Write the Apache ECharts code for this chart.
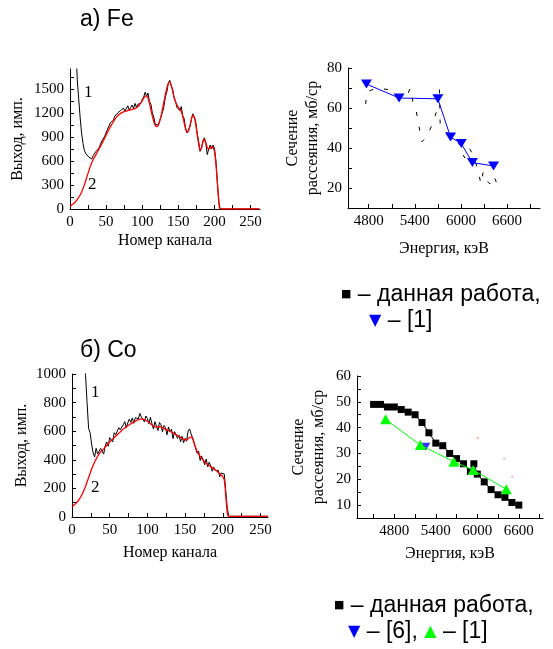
<!DOCTYPE html>
<html>
<head>
<meta charset="utf-8">
<style>
  html, body { margin: 0; padding: 0; background: #fff; }
  #chart { width: 553px; height: 649px; }
</style>
<script src="https://cdn.jsdelivr.net/npm/echarts@6/dist/echarts.min.js"></script>
</head>
<body>
<div id="chart"></div>
<script>
// ---- Fe spectrum: channel numbers, measured counts (1) and fitted curve (2)
const chanFe = [0,2,4,6,8,10,12,14,16,18,20,22,24,26,28,30,32,34,36,38,40,42,44,46,48,50,52,54,56,58,60,62,64,66,68,70,72,74,76,78,80,82,84,86,88,90,92,94,96,98,100,102,104,106,108,110,112,114,116,118,120,122,124,126,128,130,132,134,136,138,140,142,144,146,148,150,152,154,156,158,160,162,164,166,168,170,172,174,176,178,180,182,184,186,188,190,192,194,196,198,200,202,204,206,208,262];
const measFe = [null,null,null,3200,2100,1620,1380,1150,950,820,730,690,665,650,640,625,665,640,720,700,
  760,775,850,840,910,930,1000,985,1080,1060,1110,1160,1140,1200,1190,1230,1210,1260,1225,1240,1290,1235,1270,1300,1255,1320,1270,1310,1330,1320,1370,
  1400,1460,1410,1450,1340,1310,1200,1150,1060,1040,1050,1100,1120,1210,1280,1400,1460,1570,1610,1540,1500,1390,1350,1270,1270,1230,1280,1170,1130,1010,950,990,1030,1120,1190,1150,1090,950,850,720,770,850,890,820,680,750,800,750,800,760,600,330,80,0,0];
const fitFe = [35,45,60,75,95,120,145,175,210,255,305,360,420,475,530,575,615,650,680,715,745,780,815,850,885,925,960,995,1030,1060,1090,1120,1145,1165,1180,1195,1205,1215,1220,1225,1230,1235,1240,1245,1250,1255,1265,1280,1300,1325,1355,1385,1410,1415,1385,1320,1240,1160,1090,1045,1030,1045,1090,1160,1250,1340,1430,1510,1570,1590,1550,1480,1400,1340,1300,1270,1245,1220,1160,1080,1000,960,975,1040,1120,1170,1150,1060,940,820,740,760,840,870,830,770,750,760,780,770,720,560,330,110,0,0];

// ---- Co spectrum
const chanCo = [0,2,4,6,8,10,12,14,16,18,20,22,24,26,28,30,32,34,36,38,40,42,44,46,48,50,52,54,56,58,60,62,64,66,68,70,72,74,76,78,80,82,84,86,88,90,92,94,96,98,100,102,104,106,108,110,112,114,116,118,120,122,124,126,128,130,132,134,136,138,140,142,144,146,148,150,152,154,156,158,160,162,164,166,168,170,172,174,176,178,180,182,184,186,188,190,192,194,196,198,200,202,204,206,208,260];
const measCo = [null,null,null,null,null,null,null,1400,1150,990,800,620,590,510,450,420,480,440,450,480,
  475,440,495,525,495,555,540,525,590,575,565,625,610,600,645,667,625,658,685,662,
  693,655,695,706,685,724,700,709,665,706,690,652,697,653,616,667,635,605,661,645,
  596,640,625,575,630,595,614,548,597,606,550,573,526,565,519,550,530,602,616,580,
  555,520,510,445,460,395,425,423,366,405,351,383,357,320,348,325,332,327,282,308,318,
  300,180,60,5,5];
const fitCo = [70,80,90,100,112,128,145,165,190,215,245,275,305,335,360,385,405,425,440,455,465,475,490,500,510,525,535,545,555,565,575,585,595,605,615,622,630,638,645,652,658,665,670,676,680,684,685,684,680,676,670,662,652,643,636,632,630,630,631,630,626,620,615,610,605,600,594,588,582,576,570,563,556,550,544,540,540,547,556,560,545,515,485,460,440,425,410,398,386,375,366,358,352,345,338,330,322,312,302,293,283,260,150,30,5,5];

// ---- Fe cross section vs energy
const feRefE = [4770,5195,5700,5865,6005,6150,6425];
const feRefS = [72,65,64.6,45.5,42.2,32.7,31];
const feOwnE = [4760,4775,4900,5100,5150,5300,5340,5380,5420,5450,5490,5560,5640,5680,5720,5730,5800,5900,5960,6000,6050,6110,6150,6190,6230,6260,6290,6330,6380,6430,6480];
const feOwnS = [62,68,70,69,66,66,70,62,58,52,43,46,53,58,70,52,48,46,44,39,35,40,37,33,28,22,28,24,22,26,21];

// ---- Co cross section vs energy
const coOwnE = [4500,4600,4700,4800,4900,5000,5100,5200,5300,5400,5500,5600,5700,5800,5900,5950,6000,6100,6200,6300,6400,6500,6600];
const coOwnS = [49,49,48,48,47,46,45,42,38,34,33,30,28,26,23,26,22,19,16,14,13,11,10];
const coRef1E = [4675,5175,5660,5940,6420];
const coRef1S = [43.2,33.3,26.8,23.6,16.1];
const coRef6E = [5255];
const coRef6S = [32.6];
const coDotsE = [6005,6390,6505];
const coDotsS = [36,28,21];

// axis tick labels
const chanTicks = [0,50,100,150,200,250];
const chanMinor = [25,75,125,175,225];
const feCountTicks = [0,300,600,900,1200,1500];
const coCountTicks = [0,200,400,600,800,1000];
const energyTicks = [4800,5400,6000,6600];
const energyAll = [4500,4800,5100,5400,5700,6000,6300,6600,6900];
const feSigmaTicks = [20,40,60,80];
const feSigmaAll = [20,30,40,50,60,70,80];
const coSigmaTicks = [10,20,30,40,50,60];

const pairs = (xs, ys) => xs.map((x, i) => [x, ys[i]]);

const serif = 'Liberation Serif';

function valueAxis(opt) {
  return Object.assign({
    type: 'value',
    splitLine: { show: false },
    axisLine: { show: true, onZero: false, lineStyle: { color: '#000', width: 1 } },
    nameLocation: 'middle',
    nameTextStyle: { color: '#000', fontFamily: serif, fontSize: 16, lineHeight: 20 }
  }, opt);
}

function tickSet(labels, all) {
  return {
    axisLabel: { customValues: labels, color: '#000', fontFamily: serif, fontSize: 15, margin: 6,
                 formatter: v => String(v) },
    axisTick: { show: true, inside: true, length: 4, customValues: all, lineStyle: { color: '#000' } }
  };
}

const chanAll = chanTicks.concat(chanMinor);

const option = {
  backgroundColor: '#fff',
  animation: false,
  grid: [
    { left: 70, top: 69, width: 190, height: 140 },
    { left: 348, top: 68, width: 192, height: 140 },
    { left: 72, top: 374, width: 196, height: 143 },
    { left: 357, top: 376, width: 186, height: 142 }
  ],
  xAxis: [
    valueAxis(Object.assign({ gridIndex: 0, min: 0, max: 263, name: 'Номер канала', nameGap: 22 }, tickSet(chanTicks, chanAll))),
    valueAxis(Object.assign({ gridIndex: 1, min: 4530, max: 7030, name: 'Энергия, кэВ', nameGap: 31 }, tickSet(energyTicks, energyAll))),
    valueAxis(Object.assign({ gridIndex: 2, min: 0, max: 260, name: 'Номер канала', nameGap: 26 }, tickSet(chanTicks, chanAll))),
    valueAxis(Object.assign({ gridIndex: 3, min: 4260, max: 6950, name: 'Энергия, кэВ', nameGap: 26 }, tickSet(energyTicks, energyAll)))
  ],
  yAxis: [
    valueAxis(Object.assign({ gridIndex: 0, min: 0, max: 1750, name: 'Выход, имп.', nameGap: 42 }, tickSet(feCountTicks, [0,150,300,450,600,750,900,1050,1200,1350,1500,1650]))),
    valueAxis(Object.assign({ gridIndex: 1, min: 10, max: 80, name: 'Сечение\nрассеяния, мб/ср', nameGap: 25 }, tickSet(feSigmaTicks, feSigmaAll))),
    valueAxis(Object.assign({ gridIndex: 2, min: 0, max: 1000, name: 'Выход, имп.', nameGap: 40 }, tickSet(coCountTicks, [0,100,200,300,400,500,600,700,800,900,1000]))),
    valueAxis(Object.assign({ gridIndex: 3, min: 5, max: 60, name: 'Сечение\nрассеяния, мб/ср', nameGap: 28 }, tickSet(coSigmaTicks, [10,15,20,25,30,35,40,45,50,55,60])))
  ],
  series: [
    // Fe spectrum
    { type: 'line', xAxisIndex: 0, yAxisIndex: 0, data: pairs(chanFe, measFe), showSymbol: false,
      lineStyle: { color: '#000', width: 1 }, clip: true, connectNulls: false, z: 2 },
    { type: 'line', xAxisIndex: 0, yAxisIndex: 0, data: pairs(chanFe, fitFe), showSymbol: false, smooth: 0.3,
      lineStyle: { color: '#ff0000', width: 1.3 }, clip: true, z: 3 },
    // Fe cross sections
    { type: 'line', xAxisIndex: 1, yAxisIndex: 1, data: pairs(feOwnE, feOwnS), showSymbol: false,
      lineStyle: { color: '#000', width: 1, type: [4, 11] }, clip: true, z: 2 },
    { type: 'line', xAxisIndex: 1, yAxisIndex: 1, data: pairs(feRefE, feRefS), symbol: 'triangle', symbolRotate: 180,
      symbolSize: [11, 9], itemStyle: { color: '#0000ff' }, lineStyle: { color: '#0000ff', width: 1 }, z: 3 },
    // Co spectrum
    { type: 'line', xAxisIndex: 2, yAxisIndex: 2, data: pairs(chanCo, measCo), showSymbol: false,
      lineStyle: { color: '#000', width: 1 }, clip: true, z: 2 },
    { type: 'line', xAxisIndex: 2, yAxisIndex: 2, data: pairs(chanCo, fitCo), showSymbol: false, smooth: 0.3,
      lineStyle: { color: '#ff0000', width: 1.3 }, clip: true, z: 3 },
    // Co cross sections
    { type: 'line', xAxisIndex: 3, yAxisIndex: 3, data: pairs(coOwnE, coOwnS), symbol: 'rect', symbolSize: 7,
      itemStyle: { color: '#000' }, lineStyle: { color: '#000', width: 1 }, z: 2 },
    { type: 'line', xAxisIndex: 3, yAxisIndex: 3, data: pairs(coRef1E, coRef1S), symbol: 'triangle',
      symbolSize: [11, 10], itemStyle: { color: '#00ff00' }, lineStyle: { color: '#00ff00', width: 1 }, z: 4 },
    { type: 'scatter', xAxisIndex: 3, yAxisIndex: 3, data: pairs(coRef6E, coRef6S), symbol: 'triangle', symbolRotate: 180,
      symbolSize: [9, 8], itemStyle: { color: '#0000ff' }, z: 3 },
    { type: 'scatter', xAxisIndex: 3, yAxisIndex: 3, data: pairs(coDotsE, coDotsS), symbol: 'rect',
      symbolSize: 2, itemStyle: { color: '#ff9999' }, z: 1 }
  ],
  graphic: [
    { type: 'text', left: 80, top: 8, style: { text: 'a) Fe', font: '23px "Liberation Sans"', fill: '#000' } },
    { type: 'text', left: 80, top: 339, style: { text: 'б) Co', font: '23px "Liberation Sans"', fill: '#000' } },
    { type: 'text', left: 84, top: 84, style: { text: '1', font: '17px "Liberation Serif"', fill: '#000' } },
    { type: 'text', left: 88, top: 176, style: { text: '2', font: '17px "Liberation Serif"', fill: '#000' } },
    { type: 'text', left: 91, top: 384, style: { text: '1', font: '17px "Liberation Serif"', fill: '#000' } },
    { type: 'text', left: 91, top: 479, style: { text: '2', font: '17px "Liberation Serif"', fill: '#000' } },
    { type: 'text', left: 341, top: 283, style: {
        text: '{sq|■} – данная работа,', font: '23px "Liberation Sans"', fill: '#000',
        rich: { sq: { fontFamily: 'DejaVu Sans', fontSize: 11, fill: '#000' } } } },
    { type: 'text', left: 369, top: 309, style: {
        text: '{dn|▼} – [1]', font: '23px "Liberation Sans"', fill: '#000',
        rich: { dn: { fontFamily: 'DejaVu Sans', fontSize: 16, fill: '#0000ff' } } } },
    { type: 'text', left: 334, top: 594, style: {
        text: '{sq|■} – данная работа,', font: '23px "Liberation Sans"', fill: '#000',
        rich: { sq: { fontFamily: 'DejaVu Sans', fontSize: 11, fill: '#000' } } } },
    { type: 'text', left: 348, top: 620, style: {
        text: '{dn|▼} – [6], {up|▲} – [1]', font: '23px "Liberation Sans"', fill: '#000',
        rich: {
          dn: { fontFamily: 'DejaVu Sans', fontSize: 16, fill: '#0000ff' },
          up: { fontFamily: 'DejaVu Sans', fontSize: 16, fill: '#00ff00' }
        } } }
  ]
};

const chart = echarts.init(document.getElementById('chart'), null, { renderer: 'canvas' });
chart.setOption(option);
</script>
</body>
</html>
